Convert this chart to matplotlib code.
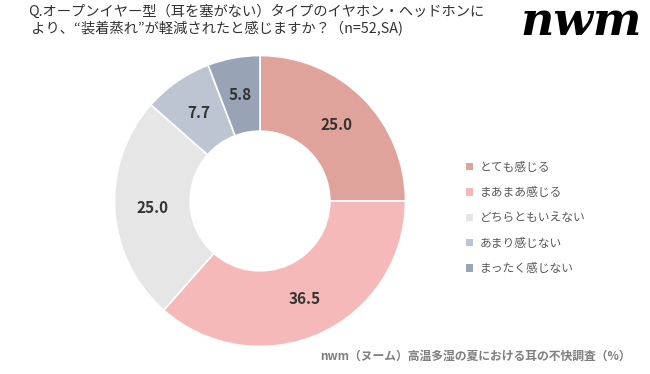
import matplotlib
matplotlib.use("Agg")
import matplotlib.pyplot as plt
from matplotlib.patches import Patch
import math

plt.rcParams['font.family'] = ['Noto Sans CJK JP', 'DejaVu Sans']

labels = ['とても感じる', 'まあまあ感じる', 'どちらともいえない', 'あまり感じない', 'まったく感じない']
values = [25.0, 36.5, 25.0, 7.7, 5.8]
colors = ['#DFA39C', '#F6B9B9', '#E6E6E6', '#BCC5D1', '#98A4B5']

title = 'Q.オープンイヤー型（耳を塞がない）タイプのイヤホン・ヘッドホンに\n より、“装着蒸れ”が軽減されたと感じますか？（n=52,SA)'
footer = 'nwm（ヌーム）高温多湿の夏における耳の不快調査（%）'

fig = plt.figure(figsize=(6.5, 3.74), dpi=100)
fig.patch.set_facecolor('white')

# donut axes: centre ~ (260, 201) px, radius ~145 px
r_px = 145.5
ax = fig.add_axes([(260 - r_px) / 650, 1 - (201 + r_px) / 374, 2 * r_px / 650, 2 * r_px / 374])
wedges, _ = ax.pie(values, colors=colors, startangle=90, counterclock=False,
                   radius=1.0, wedgeprops=dict(width=0.52, edgecolor='white', linewidth=1.2))
for w, v in zip(wedges, values):
    ang = math.radians((w.theta1 + w.theta2) / 2)
    ax.text(0.74 * math.cos(ang), 0.74 * math.sin(ang), f'{v:.1f}',
            ha='center', va='center', fontsize=11, fontweight='bold', color='#333333')
ax.set_xlim(-1, 1)
ax.set_ylim(-1, 1)
ax.set_aspect('equal')
ax.axis('off')

handles = [Patch(facecolor=c, edgecolor='none') for c in colors]
fig.legend(handles, labels, loc='upper left', bbox_to_anchor=(455 / 650, 1 - 150 / 374),
           frameon=False, fontsize=8.5, labelcolor='#595959', handlelength=0.6,
           handleheight=0.6, handletextpad=0.6, labelspacing=1.05)

fig.text(28 / 650, 1 - 4 / 374, title, ha='left', va='top', fontsize=10.3,
         color='#333333', linespacing=1.25)
fig.text(642 / 650, 1 - 22 / 374, 'nwm', ha='right', va='center', fontsize=33,
         family='DejaVu Serif', fontweight='bold', style='italic', color='black')
fig.text(631 / 650, 1 - 356 / 374, footer, ha='right', va='center', fontsize=8.5,
         color='#7F7F7F', fontweight='bold')

fig.savefig('out.png', dpi=100)
